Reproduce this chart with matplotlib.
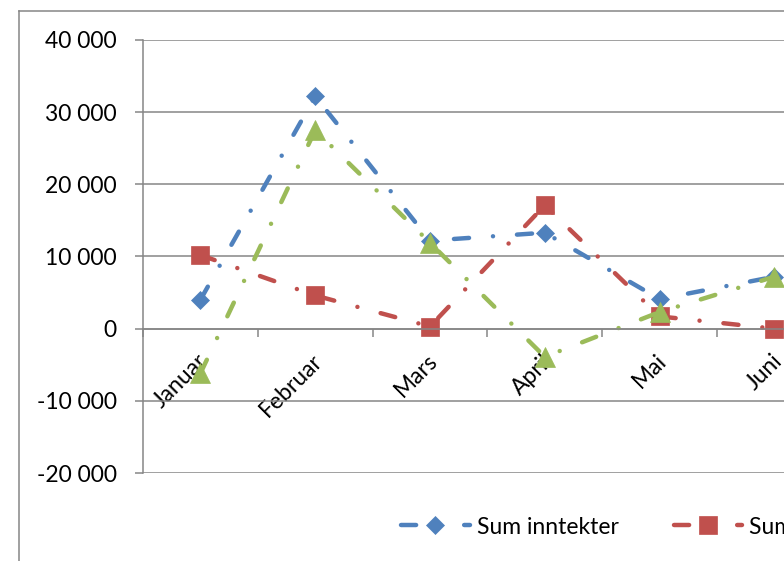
import numpy as np
import matplotlib
matplotlib.use("Agg")
import matplotlib.pyplot as plt
import matplotlib.transforms as mtransforms
from matplotlib.ticker import FuncFormatter, FixedLocator
from matplotlib.lines import Line2D

plt.rcParams['font.family'] = ['Lato', 'DejaVu Sans']

months = ["Januar", "Februar", "Mars", "April", "Mai", "Juni"]
inntekter = [4000, 32200, 12200, 13300, 4100, 7200]
utgifter = [10200, 4600, 300, 17100, 1700, 0]
resultat = [-6200, 27500, 11900, -3900, 2300, 7200]

series_names = ["Sum inntekter", "Sum utgifter", "Resultat"]
colors = ["#4F81BD", "#C0504D", "#9BBB59"]
markers = ["D", "s", "^"]
msizes = [9.5, 13, 14]
grey = "#868686"

W, H = 784, 561
fig = plt.figure(figsize=(W / 100, H / 100), dpi=100)
fig.patch.set_facecolor("white")

# plot area (runs past the right edge, like the cropped original)
cat_w = 114.8
left, top, bottom = 143, 40, 473
n_slots = 7
ax = fig.add_axes([left / W, 1 - bottom / H, n_slots * cat_w / W, (bottom - top) / H])

x = np.arange(len(months))
lw = 3.2
for vals, name, c, m, ms in zip([inntekter, utgifter, resultat], series_names, colors, markers, msizes):
    ax.plot(x, vals, color=c, lw=lw, marker=m, markersize=ms, mfc=c, mec=c, mew=0.5,
            dashes=(3.4, 5.4, 0.01, 5.4), dash_capstyle='round', label=name)

ax.set_xlim(-0.5, n_slots - 0.5)
ax.set_ylim(-20000, 40000)
ax.set_yticks(np.arange(-20000, 40001, 10000))
ax.yaxis.set_major_formatter(FuncFormatter(lambda v, p: f"{int(v):,}".replace(",", " ")))
ax.grid(axis='y', color=grey, lw=1.1)
ax.set_axisbelow(True)

for s in ['top', 'right']:
    ax.spines[s].set_visible(False)
ax.spines['left'].set_color(grey)
ax.spines['left'].set_linewidth(1.1)
ax.spines['bottom'].set_position(('data', 0))
ax.spines['bottom'].set_color(grey)
ax.spines['bottom'].set_linewidth(1.1)

ax.tick_params(axis='y', direction='out', length=6, width=1.1, color=grey, pad=13,
               labelsize=16.5, labelcolor='black')
ax.set_xticks(x)
ax.set_xticklabels(months, rotation=45, ha='right', va='center', rotation_mode='anchor')
ax.xaxis.set_minor_locator(FixedLocator(np.arange(-0.5, n_slots, 1.0)))
ax.tick_params(axis='x', which='major', length=0, pad=21, labelsize=16.5)
ax.tick_params(axis='x', which='minor', direction='out', length=6, width=1.1, color=grey)
shift = mtransforms.ScaledTranslation(4 / 100, 0, fig.dpi_scale_trans)
for lbl in ax.get_xticklabels():
    lbl.set_transform(lbl.get_transform() + shift)

# outer chart border
fig.add_artist(Line2D([18.5 / W, 18.5 / W], [0, 1 - 10.5 / H], color=grey, lw=1.1))
fig.add_artist(Line2D([18.5 / W, 1.0], [1 - 10.5 / H, 1 - 10.5 / H], color=grey, lw=1.1))

handles, labels = ax.get_legend_handles_labels()
fig.legend(handles, labels, loc='center left', bbox_to_anchor=(401 / W, 1 - 527 / H),
           ncol=3, frameon=False, handlelength=3.0, handletextpad=0.3, columnspacing=2.4,
           borderpad=0, borderaxespad=0, fontsize=16.5)

fig.savefig("out.png", dpi=100)
